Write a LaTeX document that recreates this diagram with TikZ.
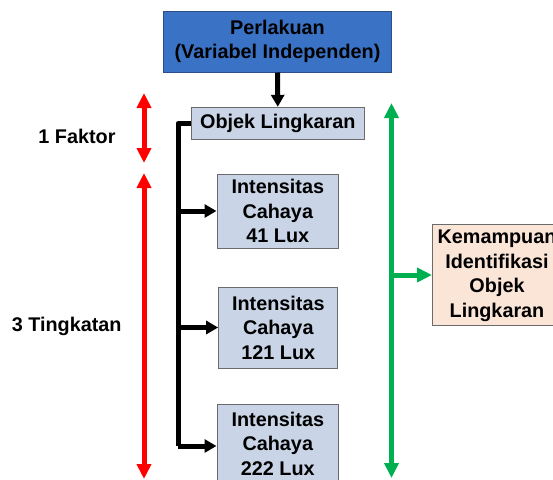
\documentclass[tikz,border=0pt]{standalone}
\usepackage{fontspec}
\setmainfont{Liberation Sans}
\usetikzlibrary{arrows.meta}
\definecolor{topblue}{HTML}{3A72C6}
\definecolor{topline}{HTML}{2B4F86}
\definecolor{lightbox}{HTML}{C9D5E6}
\definecolor{boxline}{HTML}{6B6B6B}
\definecolor{peach}{HTML}{FBE5D7}
\definecolor{arrred}{HTML}{FF0000}
\definecolor{arrgreen}{HTML}{00B050}
\begin{document}
\begin{tikzpicture}[x=1pt,y=-1pt,
  txt/.style={font=\bfseries\fontsize{19.8}{24.5}\selectfont, align=center, inner sep=0pt},
  box/.style={txt, draw=boxline, line width=1pt, fill=lightbox},
  blk/.style={line width=5pt, black, line join=round},
  blkarrow/.style={blk, -{Triangle[length=12pt,width=13pt]}},
  redarrow/.style={line width=5pt, arrred, {Triangle[length=15pt,width=14pt]}-{Triangle[length=15pt,width=14pt]}},
  greenarrow/.style={line width=5pt, arrgreen, {Triangle[length=15pt,width=14pt]}-{Triangle[length=15pt,width=14pt]}},
  greenbranch/.style={line width=5pt, arrgreen, -{Triangle[length=15pt,width=14pt]}}
]
\useasboundingbox (0,0) rectangle (553,479);
\clip (0,0) rectangle (553,479);

% boxes
\node[box, fill=topblue, draw=topline, minimum width=228pt, minimum height=61pt] (perl) at (277.5,41.5) {Perlakuan\\(Variabel Independen)};
\node[box, minimum width=172.5pt, minimum height=32pt] (obj) at (277.8,123.3) {Objek Lingkaran};
\node[box, minimum width=121.6pt, minimum height=74pt] (b1) at (277.8,211) {Intensitas\\Cahaya\\41 Lux};
\node[box, minimum width=119.3pt, minimum height=81pt] (b2) at (278.3,327.5) {Intensitas\\Cahaya\\121 Lux};
\node[box, minimum width=121.6pt, minimum height=79pt] (b3) at (277.8,443.5) {Intensitas\\Cahaya\\222 Lux};
\node[box, fill=peach, minimum width=170pt, minimum height=101pt, anchor=north west] (kem) at (432,224) {};
\node[txt] (kemtext) at (497,276) {Kemampuan\\Identifikasi\\Objek\\Lingkaran};

% labels
\node[txt] (fak) at (77,136) {1 Faktor};
\node[txt] (ting) at (66.7,326) {3 Tingkatan};

% black connectors
\draw[blkarrow] (perl.south) -- (obj.north);
\coordinate (sp) at (178,446);
\draw[blk] (obj.west) -| (sp);
\draw[blkarrow] (sp |- b1.west) -- (b1.west);
\draw[blkarrow] (sp |- b2.west) -- (b2.west);
\draw[blkarrow] (sp) -- (sp -| b3.west);

% red arrows
\coordinate (r1a) at (144,93);
\coordinate (r1b) at (144,163);
\coordinate (r2a) at (144,173);
\coordinate (r2b) at (144,479);
\draw[redarrow] (r1a) -- (r1b);
\draw[redarrow] (r2a) -- (r2b);

% green arrows
\coordinate (ga) at (391.5,103);
\coordinate (gb) at (391.5,478);
\draw[greenarrow] (ga) -- (gb);
\draw[greenbranch] (ga |- kem.west) -- (kem.west);
\end{tikzpicture}
\end{document}
